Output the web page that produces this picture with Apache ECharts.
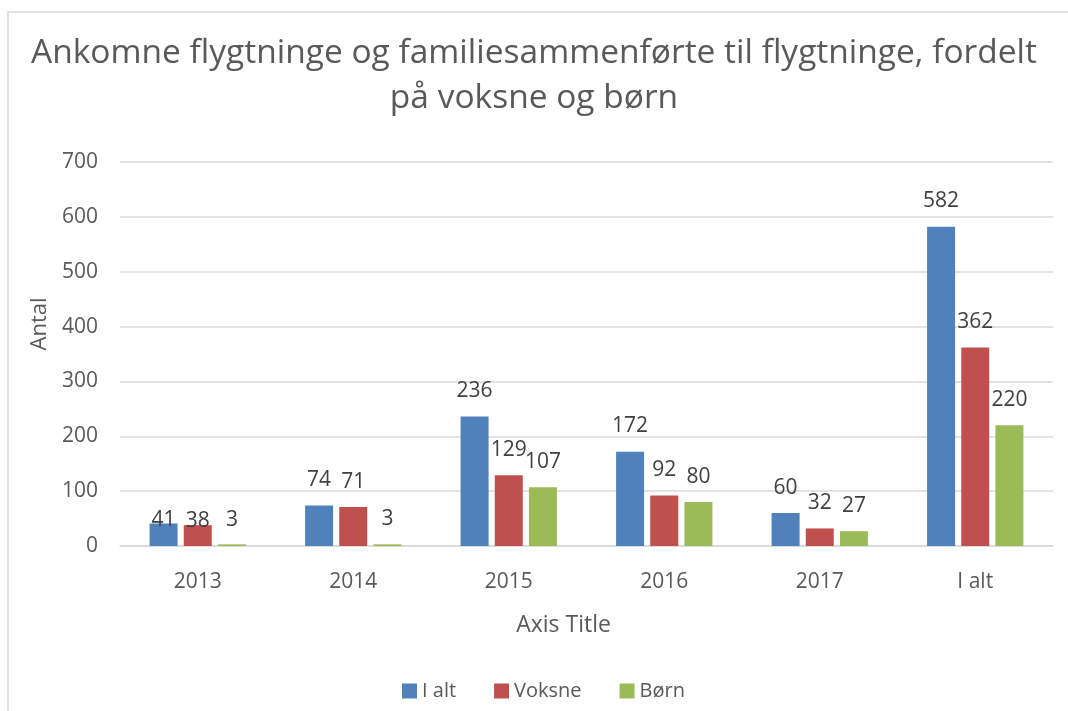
<!DOCTYPE html>
<html>
<head>
<meta charset="utf-8">
<script src="https://cdn.jsdelivr.net/npm/echarts@6/dist/echarts.min.js"></script>
<style>
  html, body { margin: 0; padding: 0; background: #fff; }
  #chart { width: 1068px; height: 711px; }
</style>
</head>
<body>
<div id="chart"></div>
<script>
const categories = ['2013', '2014', '2015', '2016', '2017', 'I alt'];
const iAlt = [41, 74, 236, 172, 60, 582];
const voksne = [38, 71, 129, 92, 32, 362];
const boern = [3, 3, 107, 80, 27, 220];
const yTicks = [0, 100, 200, 300, 400, 500, 600, 700];

const FONT = 'Open Sans';

// Excel squeezed the 2013 labels onto one line just above the bars
const firstCatLabelDistance = [-7.5, -6, 13.5];

const chart = echarts.init(document.getElementById('chart'));

const labelStyle = {
  show: true,
  position: 'top',
  distance: 15,
  color: '#404040',
  fontSize: 21,
  fontFamily: FONT
};

function bar(name, data, color, idx) {
  return {
    name,
    type: 'bar',
    data: data.map((v, i) => i === 0
      ? { value: v, label: { distance: firstCatLabelDistance[idx] } }
      : v),
    barWidth: 28,
    barGap: '22%',
    itemStyle: { color },
    label: labelStyle
  };
}

chart.setOption({
  animation: false,
  backgroundColor: '#fff',
  textStyle: { fontFamily: FONT },
  graphic: [{
    type: 'rect',
    shape: { x: 8, y: 12, width: 1070, height: 720 },
    style: { fill: 'none', stroke: '#d9d9d9', lineWidth: 1.5 },
    silent: true
  }],
  title: {
    text: 'Ankomne flygtninge og familiesammenførte til flygtninge, fordelt\npå voksne og børn',
    left: 'center',
    top: 26,
    textStyle: {
      color: '#595959',
      fontSize: 33.5,
      fontWeight: 'normal',
      lineHeight: 45,
      fontFamily: FONT
    }
  },
  legend: {
    bottom: 5,
    left: 397,
    itemWidth: 15,
    itemHeight: 15,
    itemGap: 38,
    icon: 'rect',
    textStyle: { color: '#595959', fontSize: 20, fontFamily: FONT }
  },
  grid: { left: 120, right: 15, top: 162, bottom: 165, containLabel: false },
  xAxis: {
    type: 'category',
    data: categories,
    name: 'Axis Title',
    nameLocation: 'middle',
    nameGap: 68,
    nameTextStyle: { color: '#595959', fontSize: 23, padding: [0, 46, 0, 0] },
    axisLine: { lineStyle: { color: '#d9d9d9', width: 1.5 } },
    axisTick: { show: false },
    axisLabel: { color: '#595959', fontSize: 21, margin: 26 }
  },
  yAxis: {
    type: 'value',
    min: yTicks[0],
    max: yTicks[yTicks.length - 1],
    interval: 100,
    name: 'Antal',
    nameLocation: 'middle',
    nameGap: 64,
    nameTextStyle: { color: '#595959', fontSize: 22, padding: [0, 0, 0, 60] },
    axisLine: { show: false },
    axisTick: { show: false },
    axisLabel: { color: '#595959', fontSize: 21, margin: 22 },
    splitLine: { lineStyle: { color: '#d9d9d9', width: 1.5 } }
  },
  series: [
    bar('I alt', iAlt, '#4f81bd', 0),
    bar('Voksne', voksne, '#c0504d', 1),
    bar('Børn', boern, '#9bbb59', 2)
  ]
});
</script>
</body>
</html>
